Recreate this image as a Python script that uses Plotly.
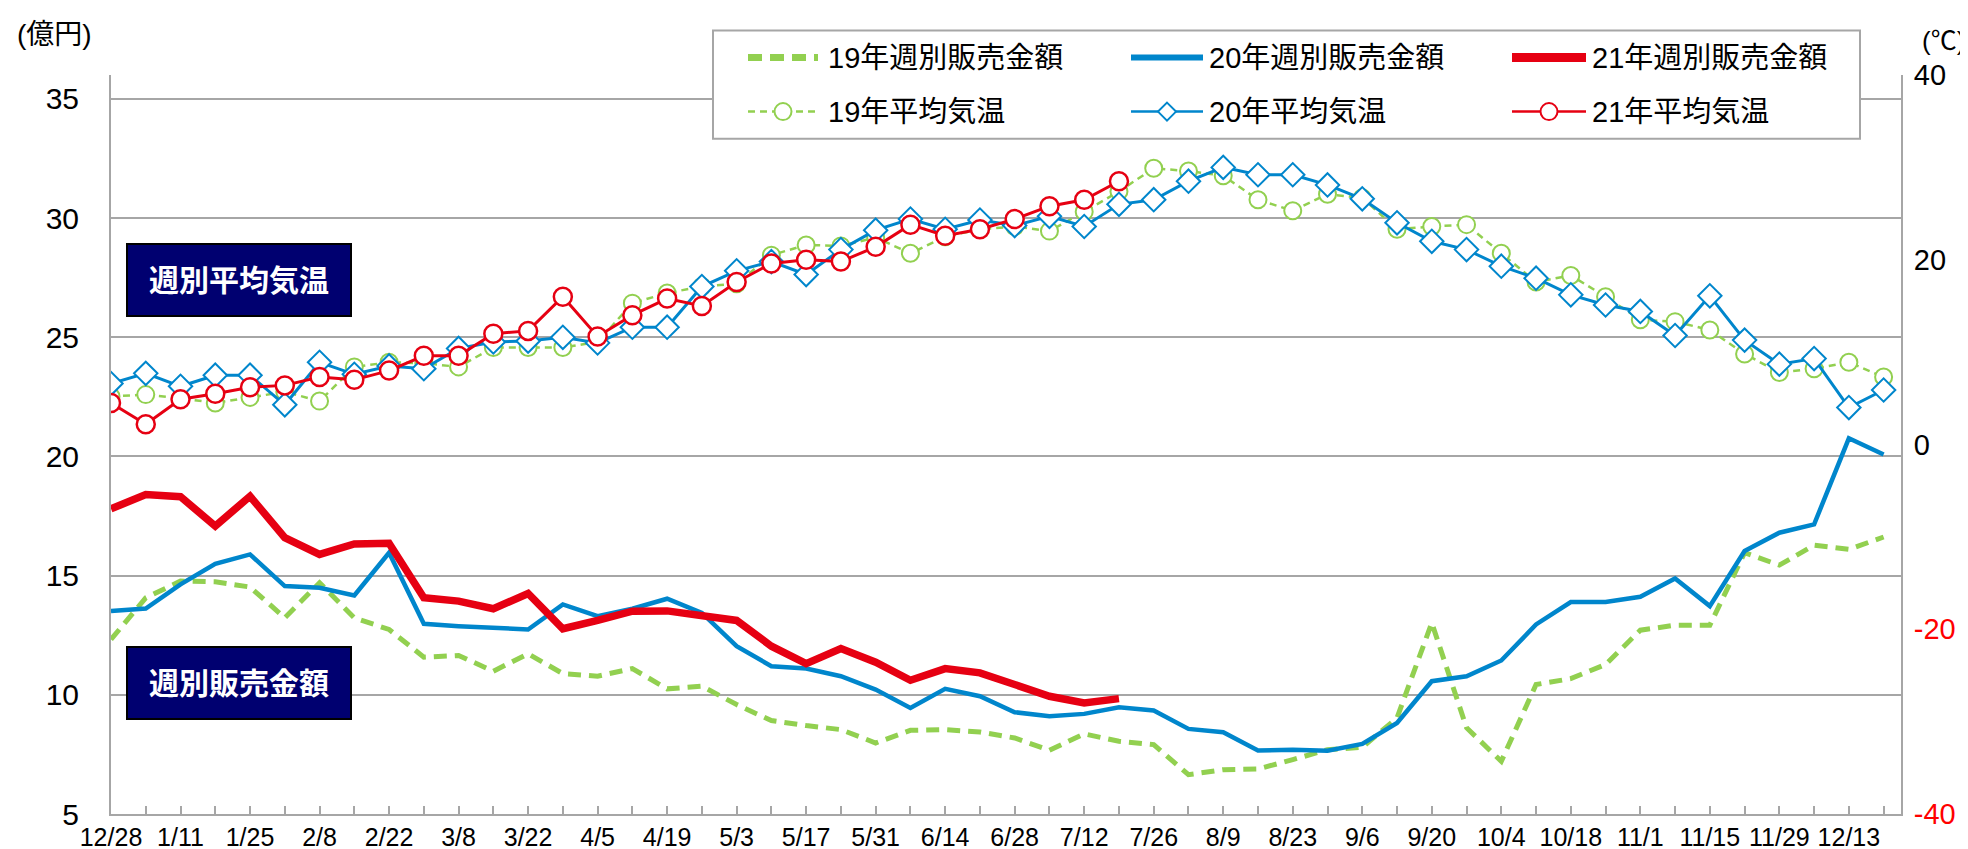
import plotly.graph_objects as go

# ---------------- data ----------------
weeks = ["12/28", "1/4", "1/11", "1/18", "1/25", "2/1", "2/8", "2/15", "2/22", "3/1",
         "3/8", "3/15", "3/22", "3/29", "4/5", "4/12", "4/19", "4/26", "5/3", "5/10",
         "5/17", "5/24", "5/31", "6/7", "6/14", "6/21", "6/28", "7/5", "7/12", "7/19",
         "7/26", "8/2", "8/9", "8/16", "8/23", "8/30", "9/6", "9/13", "9/20", "9/27",
         "10/4", "10/11", "10/18", "10/25", "11/1", "11/8", "11/15", "11/22", "11/29", "12/6",
         "12/13", "12/20"]

sales19 = [12.32, 14.07, 14.77, 14.74, 14.52, 13.23, 14.70, 13.23, 12.74, 11.58,
           11.65, 10.99, 11.72, 10.89, 10.78, 11.10, 10.25, 10.36, 9.59, 8.92,
           8.71, 8.54, 7.98, 8.51, 8.54, 8.44, 8.19, 7.67, 8.36, 8.05,
           7.91, 6.65, 6.86, 6.89, 7.28, 7.70, 7.80, 9.03, 13.02, 8.62,
           7.21, 10.43, 10.68, 11.27, 12.71, 12.92, 12.92, 15.96, 15.44, 16.28,
           16.10, 16.62]
sales20 = [13.51, 13.62, 14.63, 15.49, 15.89, 14.56, 14.49, 14.17, 15.96, 12.98,
           12.88, 12.81, 12.74, 13.79, 13.30, 13.61, 14.03, 13.44, 12.04, 11.20,
           11.10, 10.78, 10.22, 9.45, 10.25, 9.94, 9.27, 9.10, 9.20, 9.48,
           9.34, 8.57, 8.43, 7.66, 7.70, 7.65, 7.94, 8.82, 10.57, 10.78,
           11.44, 12.95, 13.89, 13.89, 14.11, 14.88, 13.72, 16.03, 16.80, 17.15,
           20.76, 20.08]
sales21 = [17.80, 18.40, 18.31, 17.08, 18.33, 16.59, 15.89, 16.33, 16.36, 14.07,
           13.93, 13.61, 14.25, 12.77, 13.12, 13.51, 13.52, 13.30, 13.12, 12.04,
           11.31, 11.94, 11.37, 10.61, 11.10, 10.92, 10.46, 9.94, 9.66, 9.84]

temp19 = [5.2, 5.4, 5.0, 4.5, 5.1, 5.7, 4.7, 8.4, 8.9, 8.8,
          8.4, 10.5, 10.5, 10.5, 11.1, 15.3, 16.4, 17.1, 17.4, 20.5,
          21.6, 21.5, 22.4, 20.7, 22.5, 23.3, 23.6, 23.1, 25.2, 27.4,
          29.9, 29.6, 29.1, 26.5, 25.3, 27.1, 26.7, 23.3, 23.6, 23.8,
          20.7, 17.6, 18.3, 16.0, 13.5, 13.3, 12.4, 9.8, 7.8, 8.2,
          8.9, 7.3]
temp20 = [6.6, 7.7, 6.3, 7.5, 7.5, 4.3, 8.9, 7.6, 8.5, 8.2,
          10.4, 11.1, 11.2, 11.6, 11.0, 12.7, 12.7, 17.1, 18.8, 19.8,
          18.4, 21.1, 23.2, 24.4, 23.3, 24.3, 23.7, 24.7, 23.6, 26.0,
          26.5, 28.5, 30.0, 29.2, 29.2, 28.1, 26.6, 24.0, 22.0, 21.1,
          19.3, 18.0, 16.2, 15.1, 14.4, 11.8, 16.1, 11.3, 8.7, 9.3,
          4.0, 5.9]
temp21 = [4.5, 2.2, 4.9, 5.5, 6.2, 6.4, 7.3, 7.0, 8.0, 9.6,
          9.6, 12.0, 12.3, 16.0, 11.7, 14.0, 15.8, 15.0, 17.6, 19.6,
          20.0, 19.8, 21.4, 23.8, 22.6, 23.3, 24.4, 25.8, 26.5, 28.5]

x_labels = [w if i % 2 == 0 else "" for i, w in enumerate(weeks)]
left_ticks = [5, 10, 15, 20, 25, 30, 35]
right_ticks = [-40, -20, 0, 20, 40]
right_labels = ['<span style="color:#FF0000">-40</span>', '<span style="color:#FF0000">-20</span>',
                "0", "20", "40"]

names = ["19年週別販売金額", "20年週別販売金額", "21年週別販売金額",
         "19年平均気温", "20年平均気温", "21年平均気温"]

# ---------------- style ----------------
GREEN = "#92D050"
BLUE = "#0086CC"
RED = "#E60012"
GRID = "#A6A6A6"
NAVY = "#000070"
FONT = "Liberation Sans, Arial, Noto Sans CJK JP, sans-serif"
CJK = "Liberation Sans, Noto Sans CJK JP, sans-serif"

W, H = 1968, 849
L, R, T, B = 103, 1893, 67.4, 806


def px(x):
    return (x - L) / (R - L)


def py(y):
    return (B - y) / (B - T)


fig = go.Figure()

fig.add_trace(go.Scatter(x=weeks, y=sales19, name=names[0], mode="lines",
                         line=dict(color=GREEN, width=5, dash="13px,8px")))
fig.add_trace(go.Scatter(x=weeks, y=sales20, name=names[1], mode="lines",
                         line=dict(color=BLUE, width=4.5)))
fig.add_trace(go.Scatter(x=weeks[:len(sales21)], y=sales21, name=names[2], mode="lines",
                         line=dict(color=RED, width=7.5)))

fig.add_trace(go.Scatter(x=weeks, y=temp19, name=names[3], mode="lines+markers", yaxis="y2",
                         line=dict(color=GREEN, width=2.5, dash="7px,5px"),
                         marker=dict(symbol="circle", size=17, color="white",
                                     line=dict(color=GREEN, width=2))))
fig.add_trace(go.Scatter(x=weeks, y=temp20, name=names[4], mode="lines+markers", yaxis="y2",
                         line=dict(color=BLUE, width=3),
                         marker=dict(symbol="diamond", size=18, color="white",
                                     line=dict(color=BLUE, width=2))))
fig.add_trace(go.Scatter(x=weeks[:len(temp21)], y=temp21, name=names[5], mode="lines+markers",
                         yaxis="y2",
                         line=dict(color=RED, width=3),
                         marker=dict(symbol="circle", size=18, color="white",
                                     line=dict(color=RED, width=2.5))))

# ---------------- manual legend ----------------
shapes = [dict(type="rect", xref="paper", yref="paper", x0=px(705), x1=px(1852),
               y0=py(131), y1=py(23), fillcolor="white", line=dict(color=GRID, width=2),
               layer="above")]
annotations = []
cols = [(740, 810, 818), (1123, 1195, 1199), (1504, 1578, 1582)]
row_y = [50, 104]
colors = [GREEN, BLUE, RED]
sales_styles = [dict(color=GREEN, width=7, dash="14px,8px"), dict(color=BLUE, width=6),
                dict(color=RED, width=9)]
temp_styles = [dict(color=GREEN, width=2.5, dash="7px,5px"), dict(color=BLUE, width=2.5),
               dict(color=RED, width=2.5)]
for k, (x0, x1, tx) in enumerate(cols):
    shapes.append(dict(type="line", xref="paper", yref="paper", x0=px(x0), x1=px(x1),
                       y0=py(row_y[0]), y1=py(row_y[0]), line=sales_styles[k], layer="above"))
    shapes.append(dict(type="line", xref="paper", yref="paper", x0=px(x0), x1=px(x1),
                       y0=py(row_y[1]), y1=py(row_y[1]), line=temp_styles[k], layer="above"))
    cx = (x0 + x1) / 2
    if k == 1:
        shapes.append(dict(type="path", xref="paper", yref="paper", xsizemode="pixel",
                           ysizemode="pixel", xanchor=px(cx), yanchor=py(row_y[1]),
                           path="M0,9 L9,0 L0,-9 L-9,0 Z", fillcolor="white",
                           line=dict(color=colors[k], width=2), layer="above"))
    else:
        shapes.append(dict(type="circle", xref="paper", yref="paper", xsizemode="pixel",
                           ysizemode="pixel", xanchor=px(cx), yanchor=py(row_y[1]),
                           x0=-8.5, x1=8.5, y0=-8.5, y1=8.5, fillcolor="white",
                           line=dict(color=colors[k], width=2), layer="above"))
    annotations.append(dict(text=names[k], x=px(tx), y=py(row_y[0]), xref="paper", yref="paper",
                            xanchor="left", yanchor="middle", showarrow=False,
                            font=dict(size=29, color="black", family=CJK)))
    annotations.append(dict(text=names[k + 3], x=px(tx), y=py(row_y[1]), xref="paper",
                            yref="paper", xanchor="left", yanchor="middle", showarrow=False,
                            font=dict(size=29, color="black", family=CJK)))

# label boxes
for txt, cy in [("週別平均気温", 272), ("週別販売金額", 675)]:
    annotations.append(dict(text="<b>" + txt + "</b>", x=px(231), y=py(cy), xref="paper",
                            yref="paper", xanchor="center", yanchor="middle", showarrow=False,
                            width=222, height=70, borderpad=0, bgcolor=NAVY,
                            bordercolor="black", borderwidth=2,
                            font=dict(size=30, color="white", family=CJK)))

# unit labels
annotations.append(dict(text="(億円)", x=px(46), y=py(27), xref="paper", yref="paper",
                        xanchor="center", yanchor="middle", showarrow=False,
                        font=dict(size=28, color="black", family=CJK)))
annotations.append(dict(text="(℃)", x=px(1935), y=py(33), xref="paper", yref="paper",
                        xanchor="center", yanchor="middle", showarrow=False,
                        font=dict(size=26, color="black", family=CJK)))

fig.update_layout(
    width=W, height=H,
    margin=dict(l=L, r=W - R, t=T, b=H - B, autoexpand=False),
    paper_bgcolor="white", plot_bgcolor="white",
    showlegend=False,
    font=dict(family=FONT, color="black"),
    shapes=shapes, annotations=annotations,
    xaxis=dict(type="category", categoryorder="array", categoryarray=weeks,
               range=[0, 51.5], tickmode="array", tickvals=weeks, ticktext=x_labels,
               ticks="inside", ticklen=8, tickwidth=2, tickcolor=GRID,
               showline=True, linecolor=GRID, linewidth=2, showgrid=False, zeroline=False,
               tickfont=dict(size=25, family=FONT), tickangle=0, ticklabelstandoff=0,
               automargin=False),
    yaxis=dict(range=[5, 36], tickmode="array", tickvals=left_ticks,
               showgrid=True, gridcolor=GRID, gridwidth=2, zeroline=False,
               showline=True, linecolor=GRID, linewidth=2, ticks="",
               tickfont=dict(size=30, family=FONT), ticklabelstandoff=24,
               automargin=False),
    yaxis2=dict(range=[-40, 40], overlaying="y", side="right", tickmode="array",
                tickvals=right_ticks, ticktext=right_labels, showgrid=False, zeroline=False,
                showline=True, linecolor=GRID, linewidth=2, ticks="",
                tickfont=dict(size=29, family=FONT), ticklabelstandoff=5,
                automargin=False),
)

fig.write_html("out.html")
